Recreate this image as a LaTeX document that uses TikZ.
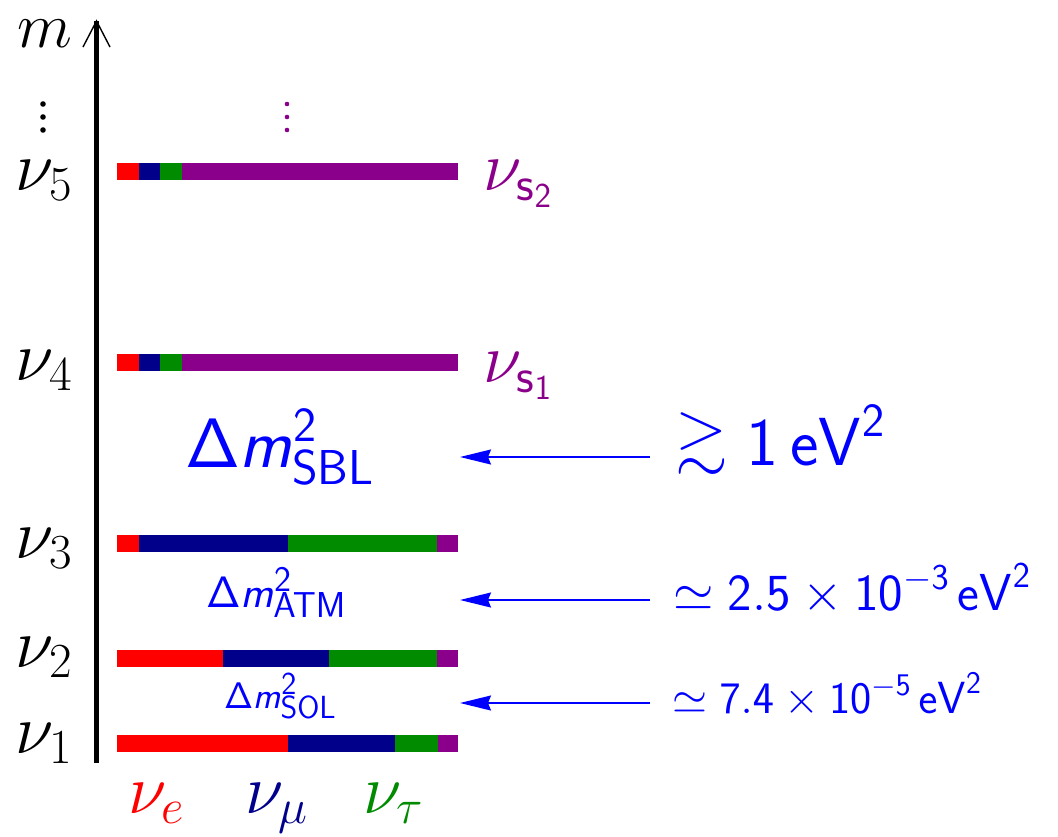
\RequirePackage{fix-cm}
\documentclass[tikz,border=0pt]{standalone}
\usetikzlibrary{arrows.meta}
\DeclareMathAlphabet{\mathsfit}{OT1}{cmss}{m}{sl}
\DeclareMathSizes{44}{44}{36}{30}
\DeclareMathSizes{37}{37}{32}{26}
\definecolor{nred}{RGB}{255,0,0}
\definecolor{nblue}{RGB}{0,0,139}
\definecolor{ngreen}{RGB}{0,139,0}
\definecolor{npurple}{RGB}{139,0,139}
\definecolor{tblue}{RGB}{0,0,255}
\newcommand\fsz[1]{\fontsize{#1}{#1}\selectfont}
\newcommand\mygtrsim{\mathrel{\vcenter{\offinterlineskip\hbox{$>$}\vskip .12em\hbox{$\sim$}}}}
\newcommand\mixbar[4]{%
  \fill[nred] (117,#1-8.5) rectangle (#2,#1+8.5);
  \fill[nblue] (#2,#1-8.5) rectangle (#3,#1+8.5);
  \fill[ngreen] (#3,#1-8.5) rectangle (#4,#1+8.5);
  \fill[npurple] (#4,#1-8.5) rectangle (458,#1+8.5);}
\tikzset{
  lab/.style={inner sep=0pt, outer sep=0pt},
  gap/.style={draw=tblue, line width=1.6pt, -{Stealth[length=31pt,width=15pt,inset=3pt]}},
}
\begin{document}
\begin{tikzpicture}[x=1pt,y=-1pt]
\useasboundingbox (0,0) rectangle (1058,836);
% axis
\coordinate (axb) at (96.5,763);
\coordinate (axt) at (96.5,21);
\draw[line width=4.5pt] (axb) -- (axt);
\draw[line width=1.4pt, line join=miter] (83,47) -- (axt) -- (110,47);
\node[lab, anchor=base east] (m) at (72,47) {\fsz{64}$m$};
% dots
\foreach \yy in {104,117,130} {
  \fill (43,\yy) circle (2.8);
  \fill[npurple] (287,\yy) circle (2.3);
}
% left labels
\node[lab, anchor=base east] (n5) at (72,190) {\fsz{70}$\nu_5$};
\node[lab, anchor=base east] (n4) at (72,380) {\fsz{70}$\nu_4$};
\node[lab, anchor=base east] (n3) at (72,558) {\fsz{70}$\nu_3$};
\node[lab, anchor=base east] (n2) at (72,667) {\fsz{70}$\nu_2$};
\node[lab, anchor=base east] (n1) at (72,753) {\fsz{70}$\nu_1$};
% bars
\mixbar{171.5}{139}{160}{182}
\mixbar{362}{139}{160}{182}
\mixbar{543.5}{139}{288}{437}
\mixbar{658}{223}{329}{437}
\mixbar{743.5}{288}{395}{438}
% sterile labels
\node[lab, anchor=base west, text=npurple] (s2) at (483,190) {\fsz{70}$\nu_{\mathsf{s}_{\mathsf{2}}}$};
\node[lab, anchor=base west, text=npurple] (s1) at (483,382) {\fsz{70}$\nu_{\mathsf{s}_{\mathsf{1}}}$};
% flavour labels
\node[lab, anchor=base west, text=nred] (fe) at (128,813) {\fsz{70}$\nu_e$};
\node[lab, anchor=base west, text=nblue] (fm) at (245,813) {\fsz{70}$\nu_\mu$};
\node[lab, anchor=base west, text=ngreen] (ft) at (363,813) {\fsz{70}$\nu_\tau$};
% mass splittings
\node[lab, anchor=base west, text=tblue] (sbl) at (185,467) {\fsz{70}$\mathsf{\Delta}\mathsfit{m}^{\mathsf{2}}_{\mathsf{SBL}}$};
\node[lab, anchor=base west, text=tblue] (atm) at (206,607) {\fsz{44}$\mathsf{\Delta}\mathsfit{m}^{\mathsf{2}}_{\mathsf{ATM}}$};
\node[lab, anchor=base west, text=tblue] (sol) at (224,708) {\fsz{37}$\mathsf{\Delta}\mathsfit{m}^{\mathsf{2}}_{\mathsf{SOL}}$};
\node[lab, anchor=base west, text=tblue] (vsbl) at (675,465) {\fsz{68}$\mygtrsim\mathsf{1}\,\mathsf{eV}^{\mathsf{2}}$};
\node[lab, anchor=base west, text=tblue] (vatm) at (673,610) {\fsz{52}$\simeq\mathsf{2.5}\times\mathsf{10}^{-\mathsf{3}}\,\mathsf{eV}^{\mathsf{2}}$};
\node[lab, anchor=base west, text=tblue] (vsol) at (672,713) {\fsz{45}$\simeq\mathsf{7.4}\times\mathsf{10}^{-\mathsf{5}}\,\mathsf{eV}^{\mathsf{2}}$};
% arrows
\coordinate (asbl0) at (650,457);
\coordinate (asbl1) at (460,457);
\coordinate (aatm0) at (650,600);
\coordinate (aatm1) at (460,600);
\coordinate (asol0) at (650,703);
\coordinate (asol1) at (460,703);
\draw[gap] (asbl0) -- (asbl1);
\draw[gap] (aatm0) -- (aatm1);
\draw[gap] (asol0) -- (asol1);
\end{tikzpicture}
\end{document}
